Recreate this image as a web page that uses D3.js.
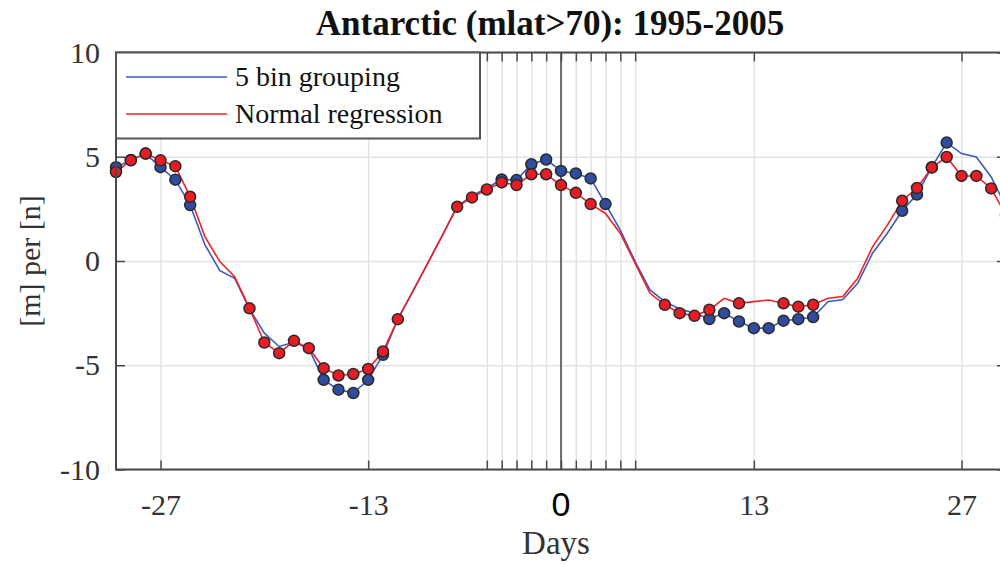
<!DOCTYPE html>
<html><head><meta charset="utf-8">
<script src="https://d3js.org/d3.v7.min.js"></script>
<style>html,body{margin:0;padding:0;background:#fff;} svg{display:block;}</style>
</head><body>
<div id="chart"></div>
<script>
// ---------- data ----------
const days = d3.range(-30, 31);
const binGrouping = [4.5,4.85,5.15,4.5,3.9,2.68,0.77,-0.46,-0.83,-2.3,-3.46,-4.1,-3.9,-4.2,-5.7,-6.17,-6.33,-5.7,-4.5,-2.79,-1.47,-0.13,1.23,2.62,3.12,3.5,3.91,3.88,4.64,4.87,4.32,4.2,3.96,2.73,1.48,-0.03,-1.39,-1.95,-2.3,-2.5,-2.78,-2.5,-2.9,-3.22,-3.22,-2.86,-2.79,-2.69,-1.95,-1.85,-1.07,0.37,1.33,2.41,3.19,4.5,5.68,5.15,4.99,4.03,2.6];
const normalRegression = [4.27,4.83,5.15,4.83,4.55,3.08,1.16,-0.03,-0.75,-2.27,-3.91,-4.42,-3.83,-4.18,-5.14,-5.49,-5.42,-5.18,-4.34,-2.79,-1.47,-0.13,1.23,2.6,3.05,3.43,3.77,3.64,4.16,4.16,3.64,3.27,2.73,2.28,1.32,-0.11,-1.55,-2.1,-2.5,-2.63,-2.34,-1.79,-2.03,-1.95,-1.87,-2.03,-2.19,-2.1,-1.79,-1.7,-0.83,0.68,1.72,2.89,3.5,4.48,4.99,4.08,4.08,3.48,2.2];
const binMarkerDays = [-30,-29,-28,-27,-26,-25,-16,-15,-14,-13,-12,-4,-3,-2,-1,0,1,2,3,10,11,12,13,14,15,16,17,23,24,25,26];
const regMarkerDays = [-30,-29,-28,-27,-26,-25,-21,-20,-19,-18,-17,-16,-15,-14,-13,-12,-11,-7,-6,-5,-4,-3,-2,-1,0,1,2,7,8,9,10,12,15,16,17,23,24,25,26,27,28,29,30];
const xTicks = [-27,-13,-5,-4,-3,-2,-1,0,1,2,3,4,5,13,27];
const xTickLabels = {"-27":"-27","-13":"-13","13":"13","27":"27"};
const yTicks = [-10,-5,0,5,10];
const yTickLabels = ["-10","-5","0","5","10"];
const seriesNames = ["5 bin grouping","Normal regression"];
const titleText = "Antarctic (mlat>70): 1995-2005";
const xLabelText = "Days";
const yLabelText = "[m] per [n]";

// ---------- layout ----------
const W = 1000, H = 565;
const L = 116, R = 1006, T = 52.5, B = 469.5;
const blueLine = "#3d5cbc", redLine = "#ee2229";
const blueFill = "#2f4c9e", redFill = "#e81c24";
const axisCol = "#4a4a4a", gridCol = "#e3e3e3", textCol = "#333";
const serif = "'Liberation Serif','Times New Roman',serif";

const svg = d3.select("#chart").append("svg").attr("width", W).attr("height", H);
const x = d3.scaleLinear().domain([-30, 30]).range([L, R]);
const y = d3.scaleLinear().domain([-10, 10]).range([B, T]);

// grid
svg.append("g").attr("transform", `translate(0,${B})`)
  .call(d3.axisBottom(x).tickValues(xTicks).tickSize(-(B - T)).tickFormat(""))
  .call(g => { g.select(".domain").remove(); g.selectAll("line").attr("stroke", gridCol).attr("stroke-width", 1.5); });
svg.append("g").attr("transform", `translate(${L},0)`)
  .call(d3.axisLeft(y).tickValues(yTicks).tickSize(-(R - L)).tickFormat(""))
  .call(g => { g.select(".domain").remove(); g.selectAll("line").attr("stroke", gridCol).attr("stroke-width", 1.5); });

// zero line
svg.append("line").attr("x1", x(0)).attr("x2", x(0)).attr("y1", T).attr("y2", B)
  .attr("stroke", "#1a1a1a").attr("stroke-width", 1.2);

// lines
const lineGen = vals => d3.line().x((d, i) => x(days[i])).y(d => y(d))(vals);
svg.append("path").attr("d", lineGen(binGrouping)).attr("fill", "none").attr("stroke", blueLine).attr("stroke-width", 1.6);
svg.append("path").attr("d", lineGen(normalRegression)).attr("fill", "none").attr("stroke", redLine).attr("stroke-width", 1.6);

// markers
const valAt = (arr, d) => arr[days.indexOf(d)];
svg.append("g").selectAll("circle").data(binMarkerDays).join("circle")
  .attr("cx", d => x(d)).attr("cy", d => y(valAt(binGrouping, d))).attr("r", 5.5)
  .attr("fill", blueFill).attr("stroke", "#2a2a2a").attr("stroke-width", 1.5);
svg.append("g").selectAll("circle").data(regMarkerDays).join("circle")
  .attr("cx", d => x(d)).attr("cy", d => y(valAt(normalRegression, d))).attr("r", 5.5)
  .attr("fill", redFill).attr("stroke", "#2a2a2a").attr("stroke-width", 1.5);

// axes (box with inward ticks)
const tk = 9;
const styleAxis = g => { g.select(".domain").remove(); g.selectAll("line").attr("stroke", axisCol).attr("stroke-width", 1.5); };
const xb = svg.append("g").attr("transform", `translate(0,${B})`)
  .call(d3.axisBottom(x).tickValues(xTicks).tickSizeInner(-tk).tickSizeOuter(0).tickPadding(24)
    .tickFormat(d => xTickLabels[String(d)] || ""))
  .call(styleAxis);
xb.selectAll("text").attr("font-family", serif).attr("font-size", 30).attr("fill", textCol);
svg.append("g").attr("transform", `translate(0,${T})`)
  .call(d3.axisTop(x).tickValues(xTicks).tickSizeInner(-tk).tickSizeOuter(0).tickFormat(""))
  .call(styleAxis);
const yl = svg.append("g").attr("transform", `translate(${L},0)`)
  .call(d3.axisLeft(y).tickValues(yTicks).tickSizeInner(-tk).tickSizeOuter(0).tickPadding(16)
    .tickFormat((d, i) => yTickLabels[i]))
  .call(styleAxis);
yl.selectAll("text").attr("font-family", serif).attr("font-size", 30).attr("fill", textCol);
svg.append("g").attr("transform", `translate(${R},0)`)
  .call(d3.axisRight(y).tickValues(yTicks).tickSizeInner(-tk).tickSizeOuter(0).tickFormat(""))
  .call(styleAxis);
// zero tick labelled with sans font
svg.append("text").attr("x", x(0)).attr("y", 516).attr("text-anchor", "middle")
  .attr("font-family", "'Liberation Sans',Arial,sans-serif").attr("font-size", 34).attr("fill", "#000").text("0");

// box
svg.append("rect").attr("x", L).attr("y", T).attr("width", R - L).attr("height", B - T)
  .attr("fill", "none").attr("stroke", axisCol).attr("stroke-width", 2);

// legend
const lg = svg.append("g");
lg.append("rect").attr("x", L).attr("y", T).attr("width", 364).attr("height", 86)
  .attr("fill", "#fff").attr("stroke", "#555").attr("stroke-width", 2);
[[blueLine, 77], [redLine, 114]].forEach(([c, yy], i) => {
  lg.append("line").attr("x1", 126).attr("x2", 227).attr("y1", yy).attr("y2", yy).attr("stroke", c).attr("stroke-width", 1.6);
  lg.append("text").attr("x", 235).attr("y", yy + 9).attr("font-family", serif).attr("font-size", 28)
    .attr("fill", "#111").text(seriesNames[i]);
});

// title & labels
svg.append("text").attr("x", 550).attr("y", 35).attr("text-anchor", "middle").attr("font-family", serif)
  .attr("font-weight", "bold").attr("font-size", 35).attr("fill", "#111").text(titleText);
svg.append("text").attr("x", 556).attr("y", 554).attr("text-anchor", "middle").attr("font-family", serif)
  .attr("font-size", 33).attr("fill", textCol).text(xLabelText);
svg.append("text").attr("transform", `translate(40,261) rotate(-90)`).attr("text-anchor", "middle")
  .attr("font-family", serif).attr("font-size", 30).attr("fill", textCol).text(yLabelText);
</script>
</body></html>
